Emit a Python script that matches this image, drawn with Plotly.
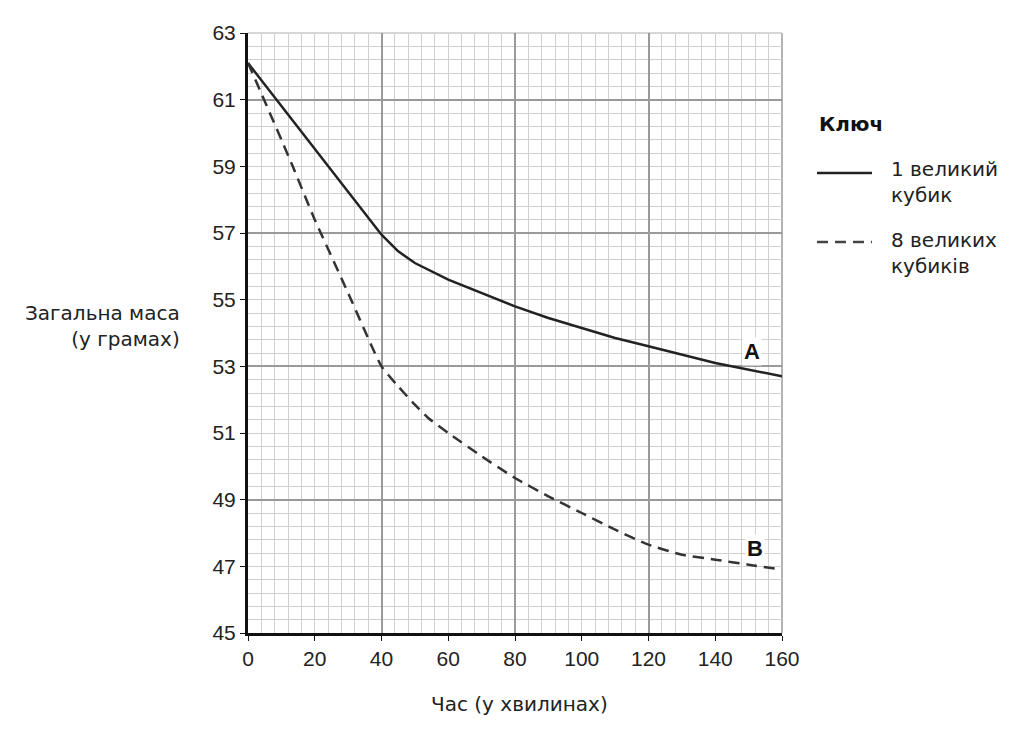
import plotly.graph_objects as go

# Data
time_1cube = [0, 40, 45, 50, 60, 70, 80, 90, 100, 110, 120, 140, 160]
mass_1cube = [62.1, 56.95, 56.45, 56.1, 55.6, 55.2, 54.8, 54.45, 54.15, 53.85, 53.6, 53.1, 52.7]

time_8cubes = [0, 3.5, 10, 13.4, 20, 21.8, 30, 40, 45, 50, 54, 60, 70, 80, 90, 100, 110, 120, 130, 140, 150, 160]
mass_8cubes = [62.1, 61.3, 59.8, 59.0, 57.4, 57.0, 55.2, 53.0, 52.4, 51.85, 51.45, 51.0, 50.3, 49.65, 49.1, 48.6, 48.1, 47.65, 47.35, 47.2, 47.05, 46.9]

x_ticks = [0, 20, 40, 60, 80, 100, 120, 140, 160]
y_ticks = [45, 47, 49, 51, 53, 55, 57, 59, 61, 63]

label_A = ("A", 151, 53.45)
label_B = ("B", 152, 47.55)

ink = "#222222"
tick_font = dict(family="Liberation Sans, Arial, sans-serif", size=21, color=ink)
text_font = dict(family="DejaVu Sans, sans-serif", size=20, color=ink)

fig = go.Figure()

# invisible trace for major-grid axis
fig.add_trace(go.Scatter(x=[0, 160], y=[45, 63], xaxis="x2", yaxis="y2",
                         mode="markers", marker=dict(opacity=0), showlegend=False, hoverinfo="skip"))

fig.add_trace(go.Scatter(x=time_1cube, y=mass_1cube, mode="lines",
                         line=dict(color=ink, width=2.5), showlegend=False))
fig.add_trace(go.Scatter(x=time_8cubes, y=mass_8cubes, mode="lines",
                         line=dict(color="#333333", width=2.5, dash="11px,7px", shape="spline", smoothing=0.5),
                         showlegend=False))

fig.update_layout(
    width=1024, height=732,
    margin=dict(l=240, r=250, t=25, b=107),
    paper_bgcolor="white", plot_bgcolor="white",
    xaxis=dict(range=[0, 160], tickvals=x_ticks, ticktext=[str(v) for v in x_ticks],
               tickfont=tick_font, showgrid=False, zeroline=False,
               showline=True, linecolor="#111", linewidth=3,
               ticks="outside", ticklen=5, tickcolor="#111",
               minor=dict(dtick=4, showgrid=True, gridcolor="#d0d0d0", gridwidth=1)),
    yaxis=dict(range=[45, 63], tickvals=y_ticks, ticktext=[str(v) for v in y_ticks],
               tickfont=tick_font, showgrid=False, zeroline=False,
               showline=True, linecolor="#111", linewidth=3,
               ticks="outside", ticklen=5, tickcolor="#111",
               minor=dict(dtick=0.4, tick0=45, showgrid=True, gridcolor="#d0d0d0", gridwidth=1)),
    xaxis2=dict(range=[0, 160], overlaying="x", dtick=40, tick0=0, showgrid=True,
                gridcolor="#9a9a9a", gridwidth=1.5, showticklabels=False, zeroline=False,
                showline=False, ticks=""),
    yaxis2=dict(range=[45, 63], overlaying="y", dtick=4, tick0=45, showgrid=True,
                gridcolor="#9a9a9a", gridwidth=1.5, showticklabels=False, zeroline=False,
                showline=False, ticks=""),
    showlegend=False,
)

fig.add_shape(type="line", xref="paper", yref="paper", x0=1, x1=1, y0=0, y1=1,
              line=dict(color="#9a9a9a", width=1.5), layer="below")
fig.add_shape(type="line", xref="paper", yref="paper", x0=0, x1=1, y0=1, y1=1,
              line=dict(color="#c8c8c8", width=1.5), layer="below")

annotations = [
    dict(text="Загальна маса<br>(у грамах)", xref="paper", yref="paper", x=-0.123, y=0.512,
         xanchor="right", yanchor="middle", align="right", showarrow=False, font=text_font),
    dict(text="Час (у хвилинах)", xref="paper", yref="paper", x=0.509, y=-0.118,
         xanchor="center", yanchor="middle", showarrow=False, font=text_font),
    dict(text="<b>Ключ</b>", xref="paper", yref="paper", x=1.0655, y=0.848,
         xanchor="left", yanchor="middle", showarrow=False,
         font=dict(family="DejaVu Sans, sans-serif", size=20, color="#111")),
    dict(text="1 великий<br>кубик", xref="paper", yref="paper", x=1.200, y=0.752,
         xanchor="left", yanchor="middle", align="left", showarrow=False, font=text_font),
    dict(text="8 великих<br>кубиків", xref="paper", yref="paper", x=1.200, y=0.634,
         xanchor="left", yanchor="middle", align="left", showarrow=False, font=text_font),
]
for txt, xv, yv in [label_A, label_B]:
    annotations.append(dict(text=f"<b>{txt}</b>", x=xv, y=yv, xref="x", yref="y",
                            showarrow=False, xanchor="center", yanchor="middle",
                            bgcolor="white",
                            font=dict(family="Liberation Sans, Arial, sans-serif", size=22, color="#111")))
fig.update_layout(annotations=annotations)

fig.add_shape(type="line", xref="paper", yref="paper", x0=1.0655, x1=1.1685, y0=0.7667, y1=0.7667,
              line=dict(color=ink, width=2.5))
fig.add_shape(type="line", xref="paper", yref="paper", x0=1.0655, x1=1.1685, y0=0.6517, y1=0.6517,
              line=dict(color="#444", width=2.5, dash="11px,7px"))

fig.write_html("out.html")
